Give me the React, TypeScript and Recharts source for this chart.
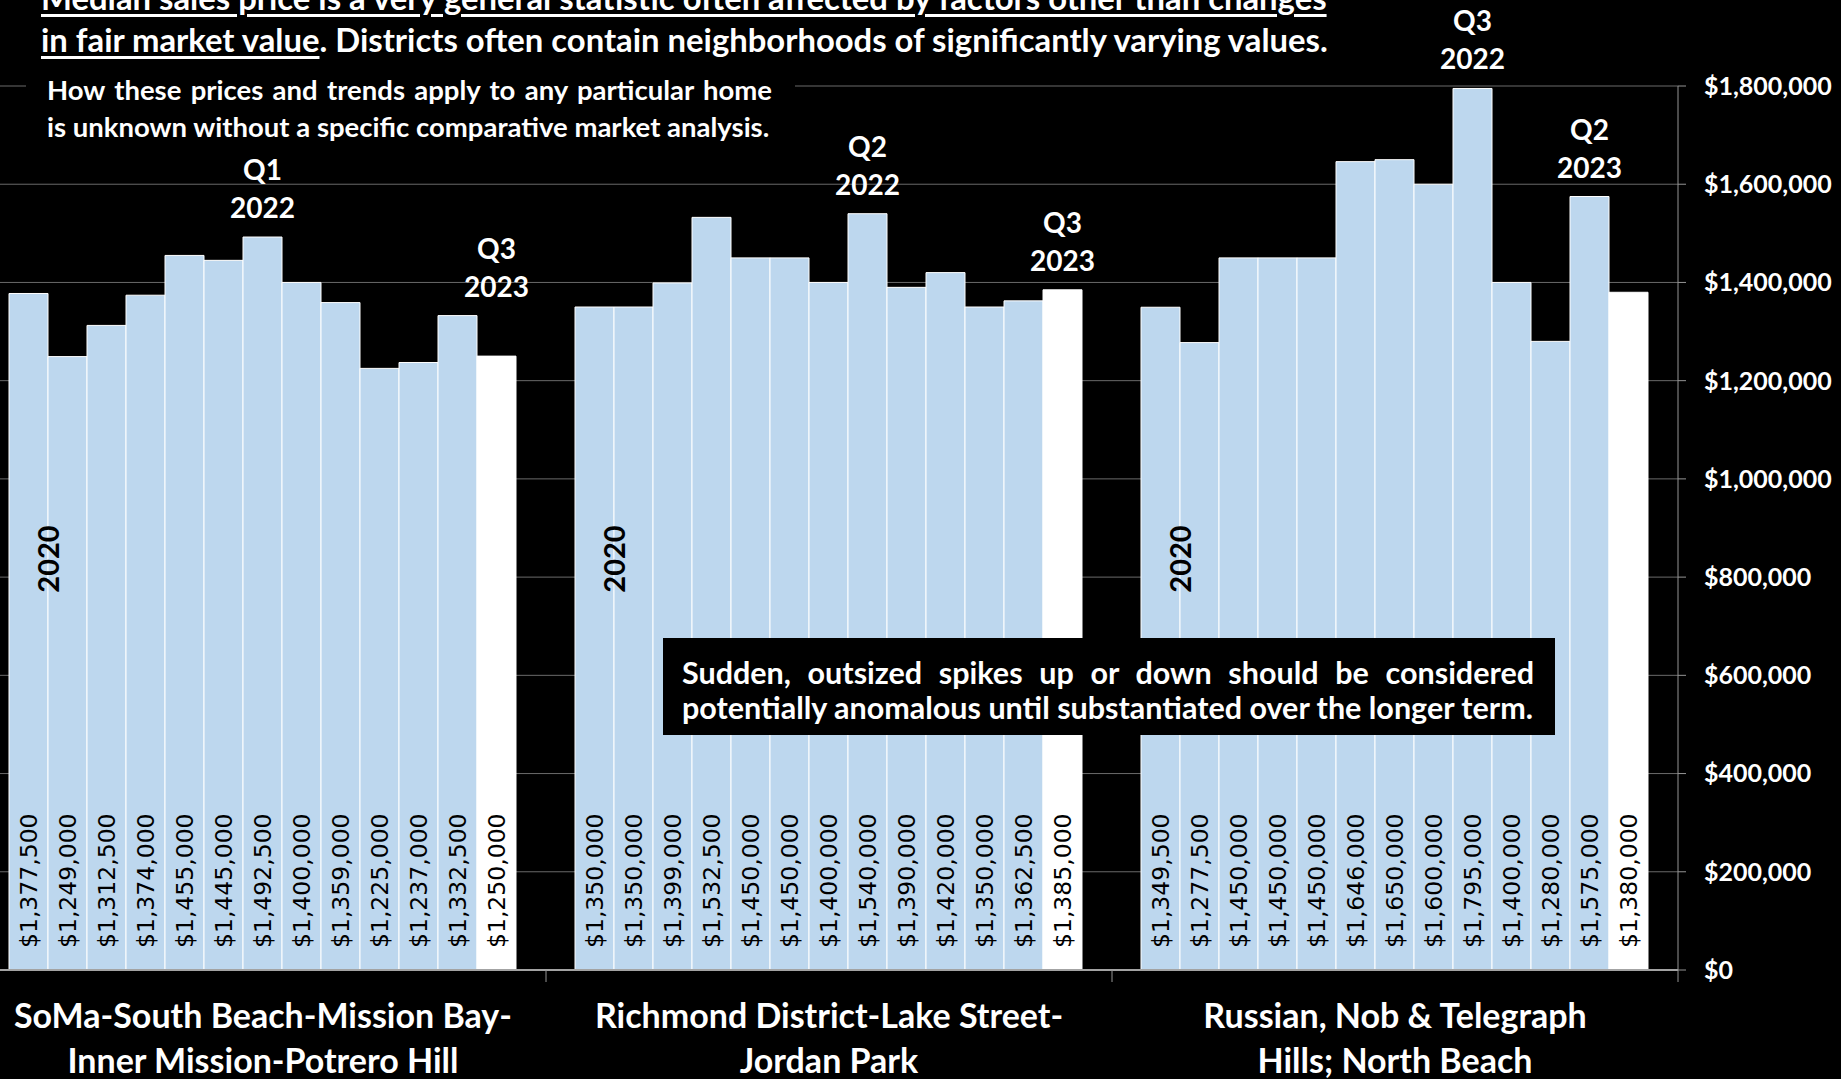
import React from "react";
import { BarChart, Bar, XAxis, YAxis, CartesianGrid, LabelList } from "recharts";

// Quarterly median sales prices, Q3 2020 through Q3 2023
const quarters = [
  "Q3 2020", "Q4 2020", "Q1 2021", "Q2 2021", "Q3 2021", "Q4 2021", "Q1 2022",
  "Q2 2022", "Q3 2022", "Q4 2022", "Q1 2023", "Q2 2023", "Q3 2023",
];

const districtLines = [
  ["SoMa-South Beach-Mission Bay-", "Inner Mission-Potrero Hill"],
  ["Richmond District-Lake Street-", "Jordan Park"],
  ["Russian, Nob & Telegraph", "Hills; North Beach"],
];

const somaPrices = [
  1377500, 1249000, 1312500, 1374000, 1455000, 1445000, 1492500,
  1400000, 1359000, 1225000, 1237000, 1332500, 1250000,
];
const richmondPrices = [
  1350000, 1350000, 1399000, 1532500, 1450000, 1450000, 1400000,
  1540000, 1390000, 1420000, 1350000, 1362500, 1385000,
];
const northeastPrices = [
  1349500, 1277500, 1450000, 1450000, 1450000, 1646000, 1650000,
  1600000, 1795000, 1400000, 1280000, 1575000, 1380000,
];

const yTicks = [0, 200000, 400000, 600000, 800000, 1000000, 1200000, 1400000, 1600000, 1800000];

// quarter callouts above selected bars
const milestones = [
  { district: 0, quarter: 6, lines: ["Q1", "2022"] },
  { district: 0, quarter: 12, lines: ["Q3", "2023"] },
  { district: 1, quarter: 7, lines: ["Q2", "2022"] },
  { district: 1, quarter: 12, lines: ["Q3", "2023"] },
  { district: 2, quarter: 8, lines: ["Q3", "2022"] },
  { district: 2, quarter: 11, lines: ["Q2", "2023"] },
];
const startYear = "2020";

const priceSeries = [somaPrices, richmondPrices, northeastPrices];

const rows = districtLines.map((lines, di) => {
  const row: Record<string, any> = { district: lines.join(" ") };
  quarters.forEach((_, qi) => {
    row[`q${qi}`] = priceSeries[di][qi];
  });
  return row;
});

const BLUE = "#BDD7EE";
const GRID = "#6a6a6a";
const AXIS = "#959595";
const FONT = "Lato, 'Noto Sans', sans-serif";

const CHART_W = 1861;
const CHART_H = 1079;
const Y_AXIS_W = 163;
const BAND = (CHART_W - Y_AXIS_W) / districtLines.length;

const money = (v: number) => "$" + Number(v).toLocaleString("en-US");

function PriceLabel(props: any) {
  const { x, y, width, height, value } = props;
  const cx = Number(x) + Number(width) / 2;
  const ty = Number(y) + Number(height) - 22;
  return (
    <text
      x={cx}
      y={ty}
      transform={`rotate(-90 ${cx} ${ty})`}
      textAnchor="start"
      dominantBaseline="central"
      fontFamily="'DejaVu Sans', Verdana, sans-serif"
      fontSize={23.5}
      fill="#000000"
    >
      {money(value)}
    </text>
  );
}

function YearTag(props: any) {
  const { x, y, width, height } = props;
  const cx = Number(x) + Number(width) - 1;
  const cy = Number(y) + Number(height) - 411;
  return (
    <text
      x={cx}
      y={cy}
      transform={`rotate(-90 ${cx} ${cy})`}
      textAnchor="middle"
      dominantBaseline="central"
      fontFamily={FONT}
      fontWeight={700}
      fontSize={29}
      fill="#000000"
    >
      {startYear}
    </text>
  );
}

// extra lift for the callout that sits above a shorter bar
const calloutLift: Record<string, number> = { "0-12": 40 };

function makeCallout(qi: number) {
  return (props: any) => {
    const { x, y, width, index } = props;
    const m = milestones.find((d) => d.district === index && d.quarter === qi);
    if (!m) return null;
    const cx = Number(x) + Number(width) / 2;
    const base = Number(y) - 30 - (calloutLift[`${index}-${qi}`] ?? 0);
    return (
      <g>
        <text x={cx} y={base - 38} textAnchor="middle" dominantBaseline="central" fontFamily={FONT} fontWeight={700} fontSize={28} fill="#ffffff">
          {m.lines[0]}
        </text>
        <text x={cx} y={base} textAnchor="middle" dominantBaseline="central" fontFamily={FONT} fontWeight={700} fontSize={28} fill="#ffffff">
          {m.lines[1]}
        </text>
      </g>
    );
  };
}

// district name under each group, plus a divider tick at the right edge of its band
function DistrictTick(props: any) {
  const { x, y, index } = props;
  const lines = districtLines[index] ?? [];
  const edge = x + BAND / 2;
  return (
    <g>
      <line x1={edge} x2={edge} y1={y} y2={y + 12} stroke={AXIS} strokeWidth={1} />
      {lines.map((line, i) => (
        <text
          key={line}
          x={x}
          y={y + 58 + i * 45}
          textAnchor="middle"
          fontFamily={FONT}
          fontWeight={700}
          fontSize={34}
          fill="#ffffff"
        >
          {line}
        </text>
      ))}
    </g>
  );
}

export default function App() {
  return (
    <div
      style={{
        position: "fixed",
        left: 0,
        top: 0,
        width: 1841,
        height: 1079,
        background: "#000000",
        overflow: "hidden",
        fontFamily: FONT,
        color: "#ffffff",
      }}
    >
      <div style={{ position: "absolute", left: -20, top: 0 }}>
        <BarChart
          width={CHART_W}
          height={CHART_H}
          data={rows}
          margin={{ top: 86, right: 0, bottom: 0, left: 0 }}
          barCategoryGap={29}
          barGap={0}
        >
          <CartesianGrid vertical={false} stroke={GRID} strokeWidth={1} />
          <XAxis
            dataKey="district"
            height={109}
            axisLine={{ stroke: "#a3a3a3", strokeWidth: 2 }}
            tickLine={false}
            tickSize={0}
            tickMargin={0}
            interval={0}
            tick={<DistrictTick />}
          />
          <YAxis
            orientation="right"
            domain={[0, 1800000]}
            ticks={yTicks}
            width={Y_AXIS_W}
            tickSize={8}
            tickMargin={18}
            tickFormatter={money}
            axisLine={{ stroke: AXIS }}
            tickLine={{ stroke: AXIS }}
            tick={{ fill: "#ffffff", fontSize: 25, fontWeight: 700, fontFamily: FONT, textAnchor: "start" }}
          />
          {quarters.map((q, qi) => (
            <Bar
              key={q}
              dataKey={`q${qi}`}
              name={q}
              fill={qi === quarters.length - 1 ? "#ffffff" : BLUE}
              stroke="#ffffff"
              strokeWidth={1}
              isAnimationActive={false}
            >
              <LabelList dataKey={`q${qi}`} content={<PriceLabel />} />
              {qi === 0 && <LabelList dataKey={`q${qi}`} content={<YearTag />} />}
              <LabelList dataKey={`q${qi}`} content={makeCallout(qi)} />
            </Bar>
          ))}
        </BarChart>
      </div>

      <div
        style={{
          position: "absolute",
          left: 41,
          top: -23,
          fontSize: 32.8,
          fontWeight: 700,
          lineHeight: "42px",
          whiteSpace: "nowrap",
        }}
      >
        <div>
          <span style={{ textDecoration: "underline", textUnderlineOffset: 4, textDecorationThickness: "2.5px" }}>
            Median sales price is a very general statistic often affected by factors other than changes
          </span>
        </div>
        <div>
          <span style={{ textDecoration: "underline", textUnderlineOffset: 4, textDecorationThickness: "2.5px" }}>
            in fair market value
          </span>
          . Districts often contain neighborhoods of significantly varying values.
        </div>
      </div>

      <div
        style={{
          position: "absolute",
          left: 26,
          top: 70,
          width: 769,
          height: 76,
          boxSizing: "border-box",
          padding: "1px 23px 0 21px",
          background: "#000000",
          fontSize: 27.5,
          fontWeight: 700,
          lineHeight: "37px",
          whiteSpace: "nowrap",
        }}
      >
        <div style={{ textAlign: "justify", textAlignLast: "justify", whiteSpace: "normal" }}>
          How these prices and trends apply to any particular home
        </div>
        <div>is unknown without a specific comparative market analysis.</div>
      </div>

      <div
        style={{
          position: "absolute",
          left: 663,
          top: 638,
          width: 892,
          height: 97,
          boxSizing: "border-box",
          padding: "17px 21px 0 19px",
          background: "#000000",
          fontSize: 30.5,
          fontWeight: 700,
          lineHeight: "35px",
          whiteSpace: "nowrap",
        }}
      >
        <div style={{ textAlign: "justify", textAlignLast: "justify", whiteSpace: "normal" }}>
          Sudden, outsized spikes up or down should be considered
        </div>
        <div>potentially anomalous until substantiated over the longer term.</div>
      </div>
    </div>
  );
}
